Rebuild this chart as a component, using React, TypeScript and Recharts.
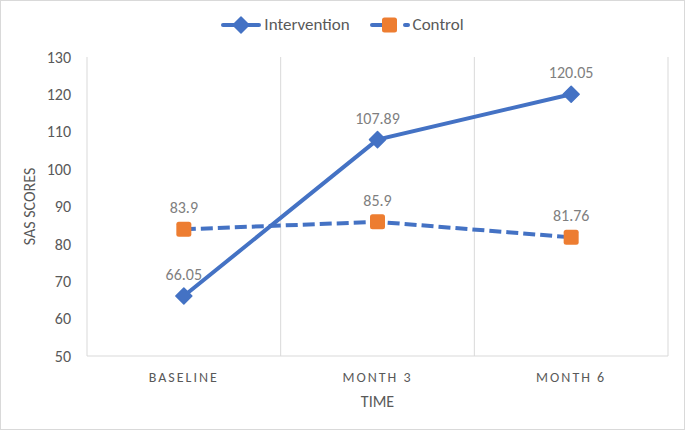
import { LineChart, Line, XAxis, YAxis, CartesianGrid, Legend, LabelList, Label } from "recharts";

const timePoints = ["BASELINE", "MONTH 3", "MONTH 6"];
const intervention = [66.05, 107.89, 120.05];
const control = [83.9, 85.9, 81.76];
const yTicks = [50, 60, 70, 80, 90, 100, 110, 120, 130];

const data = timePoints.map((t, i) => ({ time: t, intervention: intervention[i], control: control[i] }));

const BLUE = "#4472C4";
const ORANGE = "#ED7D31";
const FONT = "Calibri, Carlito, Lato, sans-serif";

// diamond marker for the intervention series
const Diamond = (props: any) => {
  const { cx, cy, index } = props;
  if (cx == null || cy == null) return <g key={index} />;
  const r = 8;
  return (
    <polygon
      key={index}
      points={`${cx},${cy - r} ${cx + r},${cy} ${cx},${cy + r} ${cx - r},${cy}`}
      fill={BLUE}
      stroke={BLUE}
      strokeWidth={1.5}
      strokeLinejoin="round"
    />
  );
};

const Square = (props: any) => {
  const { cx, cy, index } = props;
  if (cx == null || cy == null) return <g key={index} />;
  return <rect key={index} x={cx - 7.5} y={cy - 7.5} width={15} height={15} rx={2.5} fill={ORANGE} />;
};

// grid lines sit on the category boundaries, like Excel
const bandEdges = ({ offset }: any) =>
  [0, 1, 2, 3].map((i) => offset.left + (i * offset.width) / timePoints.length);

const LegendContent = () => (
  <div
    style={{
      position: "absolute",
      top: 0,
      left: 0,
      width: 683,
      display: "flex",
      justifyContent: "center",
      alignItems: "center",
      fontFamily: FONT,
      fontSize: 17,
      color: "#595959",
      lineHeight: "20px",
    }}
  >
    <svg width={40} height={18} style={{ marginRight: 3 }}>
      <line x1={2} y1={9} x2={38} y2={9} stroke={BLUE} strokeWidth={4} strokeLinecap="round" />
      <polygon points="20,1 28,9 20,17 12,9" fill={BLUE} stroke={BLUE} strokeWidth={1.5} strokeLinejoin="round" />
    </svg>
    <span style={{ marginRight: 20 }}>Intervention</span>
    <svg width={40} height={18} style={{ marginRight: 3 }}>
      <line x1={2} y1={9} x2={13} y2={9} stroke={BLUE} strokeWidth={4} strokeLinecap="round" />
      <line x1={35} y1={9} x2={38} y2={9} stroke={BLUE} strokeWidth={4} strokeLinecap="round" />
      <rect x={12} y={1.5} width={15} height={15} rx={2.5} fill={ORANGE} />
    </svg>
    <span>Control</span>
  </div>
);

export default function App() {
  return (
    <div
      style={{
        position: "relative",
        width: 685,
        height: 430,
        border: "1px solid #d9d9d9",
        boxSizing: "border-box",
        background: "#fff",
      }}
    >
      <style>{"body{margin:0}"}</style>
      <LineChart width={683} height={428} data={data} margin={{ top: 56, right: 16, left: 0, bottom: 0 }}>
        <CartesianGrid horizontal={false} stroke="#d9d9d9" verticalCoordinatesGenerator={bandEdges} />
        <XAxis
          dataKey="time"
          scale="band"
          height={73}
          axisLine={{ stroke: "#d9d9d9" }}
          tickLine={false}
          tickSize={0}
          tickMargin={16}
          tick={{ fill: "#595959", fontSize: 14, fontFamily: FONT, letterSpacing: 2 }}
        >
          <Label
            value="TIME"
            position="insideBottom"
            offset={22}
            style={{ fill: "#595959", fontSize: 16, fontFamily: FONT }}
          />
        </XAxis>
        <YAxis
          width={86}
          domain={[50, 130]}
          ticks={yTicks}
          axisLine={false}
          tickLine={false}
          tickSize={0}
          tickMargin={16}
          tick={{ fill: "#595959", fontSize: 16, fontFamily: FONT }}
        >
          <Label
            value="SAS SCORES"
            angle={-90}
            position="insideLeft"
            offset={28}
            style={{ fill: "#595959", fontSize: 16, fontFamily: FONT, textAnchor: "middle" }}
          />
        </YAxis>
        <Legend
          layout="vertical"
          verticalAlign="top"
          align="center"
          content={LegendContent}
          wrapperStyle={{ top: 14, left: 0, width: 683, height: 0 }}
        />
        <Line
          dataKey="intervention"
          name="Intervention"
          stroke={BLUE}
          strokeWidth={4}
          dot={Diamond}
          activeDot={false}
          isAnimationActive={false}
        >
          <LabelList dataKey="intervention" position="top" offset={16} fill="#7f7f7f" fontSize={16} fontFamily={FONT} />
        </Line>
        <Line
          dataKey="control"
          name="Control"
          stroke={BLUE}
          strokeWidth={4}
          strokeDasharray="12 5"
          dot={Square}
          activeDot={false}
          isAnimationActive={false}
        >
          <LabelList dataKey="control" position="top" offset={16} fill="#7f7f7f" fontSize={16} fontFamily={FONT} />
        </Line>
      </LineChart>
    </div>
  );
}
